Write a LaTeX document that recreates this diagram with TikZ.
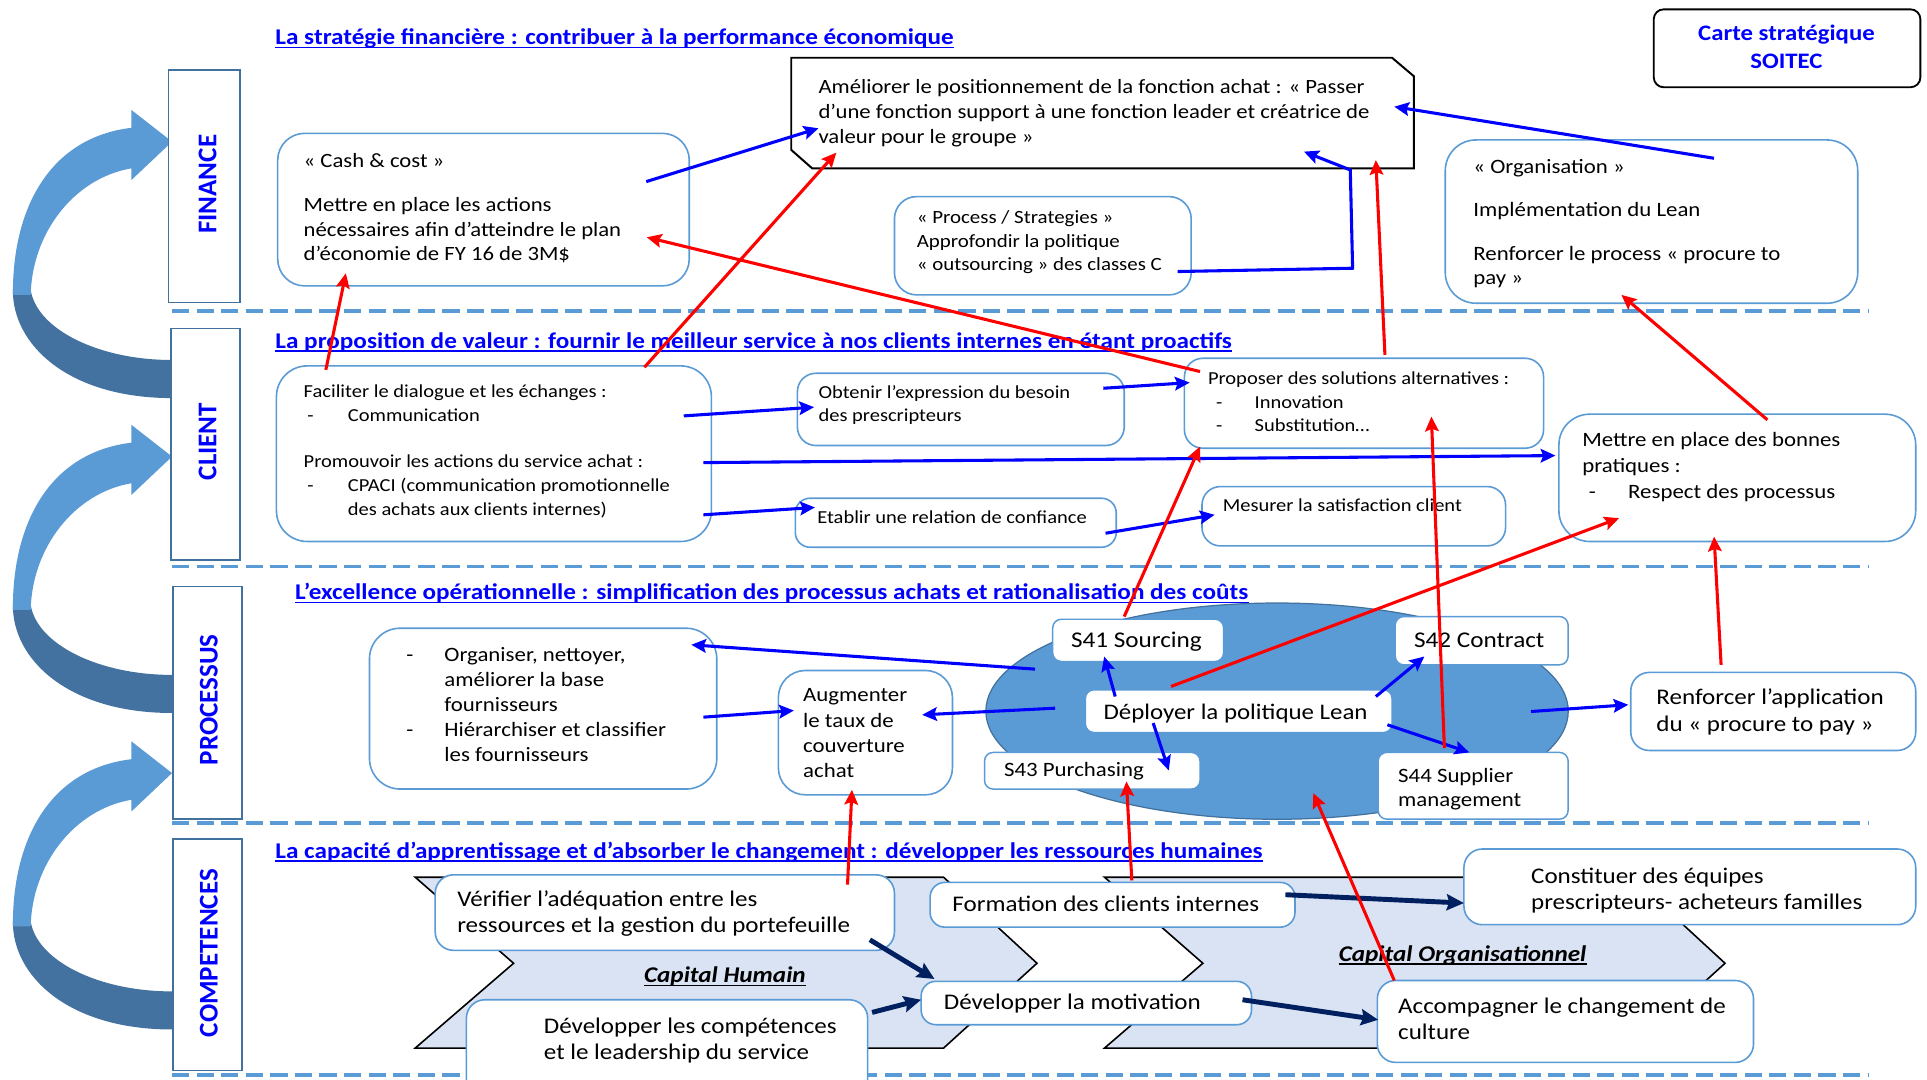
\documentclass[tikz,border=0pt]{standalone}
\usepackage{fontspec}
\setmainfont{Carlito}[FakeStretch=1.12]
\newfontfamily\lblfont{Carlito}
\usetikzlibrary{arrows.meta,fit,shapes.geometric}
\definecolor{acc}{RGB}{91,155,213}
\definecolor{accdark}{RGB}{65,113,156}
\definecolor{arrdark}{RGB}{68,114,160}
\definecolor{ttlblue}{RGB}{0,0,255}
\definecolor{navy}{RGB}{0,32,96}
\definecolor{chev}{RGB}{218,227,243}
\newcommand{\fl}{\rule{0pt}{0.9em}}
\newcommand{\fz}[2]{\fontsize{#1}{#2}\selectfont}
\newcommand{\tnode}[6]{\node[tx, font=\fz{#3}{#4}] (#5) at (#1,{#2-0.9*#3}) {\fl#6};}
\begin{document}
\begin{tikzpicture}[x=1pt,y=-1pt,
  rbox/.style={draw=acc, line width=1.3pt, fill=white, rounded corners=#1, inner sep=0pt},
  rbox/.default=15pt,
  sbox/.style={draw=acc, line width=1.2pt, fill=white, rounded corners=7pt, inner sep=0pt},
  lbl/.style={draw=accdark, line width=1.3pt, fill=white, inner sep=0pt},
  lbltxt/.style={rotate=90, text=ttlblue, font=\lblfont\bfseries\fz{22}{24}, inner sep=0pt, text height=14.2pt, text depth=0pt},
  tx/.style={inner sep=0pt, anchor=north west, align=left, text=black},
  ttl/.style={inner sep=0pt, anchor=base west, text=ttlblue, font=\bfseries\fz{18.3}{20}},
  sepline/.style={draw=acc, line width=3pt, dash pattern=on 14pt off 6pt},
  barr/.style={draw=blue, line width=2.5pt, -{Stealth[length=12pt,width=11pt,inset=2pt]}},
  rarr/.style={draw=red, line width=2.5pt, -{Stealth[length=12pt,width=11pt,inset=2pt]}},
  narr/.style={draw=navy, line width=4pt, -{Stealth[length=14pt,width=13pt,inset=2pt]}},
  chevron/.style={fill=chev, draw=black, line width=1.3pt}
]
\useasboundingbox[fill=white] (0,0) rectangle (1568.4,879);

% separators
\coordinate (s1a) at (140,253); \coordinate (s1b) at (1521,253);
\coordinate (s2a) at (140,461); \coordinate (s2b) at (1521,461);
\coordinate (s3a) at (140,670); \coordinate (s3b) at (1521,670);
\coordinate (s4a) at (140,875); \coordinate (s4b) at (1521,875);
\draw[sepline] (s1a) -- (s1b);
\draw[sepline] (s2a) -- (s2b);
\draw[sepline] (s3a) -- (s3b);
\draw[sepline] (s4a) -- (s4b);

% titles
\node[ttl] (t1) at (224,36.5) {La stratégie financière : contribuer à la performance économique};
\node[ttl] (t2) at (224,283.4) {La proposition de valeur : fournir le meilleur service à nos clients internes en étant proactifs};
\node[ttl] (t3) at (240,488.2) {L’excellence opérationnelle : simplification des processus achats et rationalisation des coûts};
\node[ttl] (t4) at (224,698.5) {La capacité d’apprentissage et d’absorber le changement : développer les ressources humaines};
\foreach \t in {t1,t2,t3,t4}{
  \draw[ttlblue, line width=1.3pt] ([yshift=-2.2pt]\t.base west) -- ([yshift=-2.2pt]\t.base east);
}

% curved arrows on the left
\foreach \dy in {0,256.3,513.9}{
  \begin{scope}[yshift=-\dy pt]
    \fill[arrdark] (10.5,236) .. controls (10,280) and (55,324) .. (140,324) -- (140,293) .. controls (80,293) and (30,268) .. (25,236) -- cycle;
    \fill[acc] (10.5,240) .. controls (10,170) and (40,112) .. (107,104) -- (107,89.5) -- (140,115.3) -- (107,146.5) -- (107,137) .. controls (60,145) and (26,190) .. (25,240) -- cycle;
  \end{scope}
}

% side labels
\node[lbl, fit={(137.3,57) (195.4,246.3)}] (finance) {};
\node[lbltxt] (finance-t) at (169,150) {FINANCE};
\node[lbl, fit={(139.1,267.2) (195.4,455.6)}] (client) {};
\node[lbltxt] (client-t) at (169,359.4) {CLIENT};
\node[lbl, fit={(141,477.4) (196.9,666.7)}] (processus) {};
\node[lbltxt] (processus-t) at (170,569.5) {PROCESSUS};
\node[lbl, fit={(141,683) (196.9,871.2)}] (competences) {};
\node[lbltxt] (competences-t) at (170,775.7) {COMPETENCES};

% carte
\node[draw=black, line width=1.5pt, rounded corners=8pt, fill=white, inner sep=0pt, fit={(1346,7.6) (1563,71)}] (carte) {};
\node[inner sep=0pt, anchor=north, align=center, text=ttlblue, font=\bfseries\fz{18}{22.6}] (carte-t) at (1454,{33-0.9*18}) {\fl Carte stratégique\\SOITEC};

% finance boxes
\node[inner sep=0pt, fit={(644,47) (1150.7,137)}] (ameliorer) {};
\filldraw[fill=white, draw=black, line width=1.6pt] (644,47) -- (1133,47) -- (1150.7,62) -- (1150.7,137) -- (661,137) -- (644,122) -- cycle;
\node[rbox=22pt, fit={(226,108.5) (561,232.7)}] (cashcost) {};
\node[rbox=18pt, fit={(728,160) (969.5,240)}] (process) {};
\node[rbox=25pt, fit={(1176.3,113.9) (1512,246.8)}] (organisation) {};

% client boxes
\node[rbox=25pt, fit={(225,297.8) (579,440.7)}] (faciliter) {};
\node[rbox=15pt, fit={(649,303.8) (915,362.6)}] (obtenir) {};
\node[rbox=12pt, fit={(647.3,405.5) (908.5,445.4)}] (etablir) {};
\node[rbox=15pt, fit={(964,291.6) (1256.3,364.8)}] (proposer) {};
\node[rbox=15pt, fit={(978.3,396) (1225.4,444.3)}] (mesurer) {};
\node[rbox=25pt, fit={(1268.8,337.1) (1559.2,440.7)}] (bonnes) {};

% processus
\node[rbox=25pt, fit={(300.7,511.3) (583.4,642.2)}] (organiser) {};
\node[rbox=22pt, fit={(633.5,545.7) (775.2,646.9)}] (augmenter) {};
\node[ellipse, fill=acc, draw=accdark, line width=1pt, minimum width=474pt, minimum height=176pt, inner sep=0pt] (ell) at (1039.4,578.8) {};
\node[sbox, fit={(856.8,504) (995.9,538.4)}] (s41) {};
\node[sbox, fit={(1135.6,501.8) (1276.3,541.1)}] (s42) {};
\node[sbox, fit={(883.4,561.4) (1133,596.2)}] (lean) {};
\node[sbox, fit={(801.3,612.4) (976.7,642.2)}] (s43) {};
\node[sbox, fit={(1121.7,612.4) (1276.3,666.7)}] (s44) {};
\node[rbox=15pt, fit={(1327.3,547.3) (1559.2,610.8)}] (renforcer) {};

% competences
\filldraw[chevron] (338,714) -- (768,714) -- (844,784) -- (768,853) -- (338,853) -- (418,784) -- cycle;
\filldraw[chevron] (899,714) -- (1328,714) -- (1404,784) -- (1328,853) -- (899,853) -- (979,784) -- cycle;
\node[inner sep=0pt, anchor=base, font=\bfseries\itshape\fz{18.3}{20}] (caph) at (590,800) {Capital Humain};
\draw[line width=1.2pt] ([yshift=-2.2pt]caph.base west) -- ([yshift=-2.2pt]caph.base east);
\node[inner sep=0pt, anchor=base, font=\bfseries\itshape\fz{18.3}{20}] (capo) at (1190.4,782.5) {Capital Organisationnel};
\draw[line width=1.2pt] ([yshift=-2.2pt]capo.base west) -- ([yshift=-2.2pt]capo.base east);
\node[rbox=15pt, fit={(354.2,712) (728,773.5)}] (verifier) {};
\node[rbox=15pt, fit={(379.6,813.7) (706.2,895)}] (developper) {};
\node[rbox=12pt, fit={(757,718.2) (1054,754.6)}] (formation) {};
\node[rbox=12pt, fit={(749.7,798.7) (1018.6,834)}] (motivation) {};
\node[rbox=15pt, fit={(1191.5,691) (1559.2,752.6)}] (constituer) {};
\node[rbox=15pt, fit={(1121,798) (1427.2,864.7)}] (accompagner) {};

% texts
\tnode{247}{136}{16.5}{20}{cashcost-t}{« Cash \& cost »\\[16pt]Mettre en place les actions\\nécessaires afin d’atteindre le plan\\d’économie de FY 16 de 3M\$}
\tnode{666}{76}{16.5}{20.3}{ameliorer-t}{Améliorer le positionnement de la fonction achat : « Passer\\d’une fonction support à une fonction leader et créatrice de\\valeur pour le groupe »}
\tnode{746}{182}{15.2}{19}{process-t}{« Process / Strategies »\\Approfondir la politique\\« outsourcing » des classes C}
\tnode{1199}{141}{16.6}{19.5}{organisation-t}{« Organisation »\\[15.8pt]Implémentation du Lean\\[15.7pt]Renforcer le process « procure to\\pay »}
\tnode{247}{323}{14.9}{19.5}{faciliter-t}{Faciliter le dialogue et les échanges :\\\hspace*{3pt}\makebox[33pt][l]{-}Communication\\[18pt]Promouvoir les actions du service achat :\\\hspace*{3pt}\makebox[33pt][l]{-}CPACI (communication promotionnelle\\\hspace*{36pt}des achats aux clients internes)}
\tnode{666}{324}{14.9}{19}{obtenir-t}{Obtenir l’expression du besoin\\des prescripteurs}
\tnode{665}{426}{14.9}{19}{etablir-t}{Etablir une relation de confiance}
\tnode{983}{313}{14.9}{19}{proposer-t}{Proposer des solutions alternatives :\\\hspace*{6.5pt}\makebox[31.5pt][l]{-}Innovation\\\hspace*{6.5pt}\makebox[31.5pt][l]{-}Substitution…}
\tnode{995}{416}{14.9}{19}{mesurer-t}{Mesurer la satisfaction client}
\tnode{1287.6}{363.5}{16.6}{21}{bonnes-t}{Mettre en place des bonnes\\pratiques :\\\hspace*{5.4pt}\makebox[32pt][l]{-}Respect des processus}
\tnode{330.5}{538.4}{16.6}{20.3}{organiser-t}{\makebox[31pt][l]{-}Organiser, nettoyer,\\\hspace*{31pt}améliorer la base\\\hspace*{31pt}fournisseurs\\\makebox[31pt][l]{-}Hiérarchiser et classifier\\\hspace*{31pt}les fournisseurs}
\tnode{653.5}{571}{16.6}{20.5}{augmenter-t}{Augmenter\\le taux de\\couverture\\achat}
\tnode{871.5}{526.7}{18.3}{20}{s41-t}{S41 Sourcing}
\tnode{1150.7}{526.7}{18.3}{20}{s42-t}{S42 Contract}
\tnode{898}{585.8}{18.1}{20}{lean-t}{Déployer la politique Lean}
\tnode{817}{632}{16.6}{19}{s43-t}{S43 Purchasing}
\tnode{1137.8}{636.8}{16.6}{19}{s44-t}{S44 Supplier\\management}
\tnode{1348}{572.8}{18.2}{22.5}{renforcer-t}{Renforcer l’application\\du « procure to pay »}
\tnode{372}{738}{18.2}{21}{verifier-t}{Vérifier l’adéquation entre les\\ressources et la gestion du portefeuille}
\tnode{442.5}{840.8}{18.2}{21}{developper-t}{Développer les compétences\\et le leadership du service}
\tnode{775}{741.8}{18.2}{21}{formation-t}{Formation des clients internes}
\tnode{768}{821.8}{18.2}{21}{motivation-t}{Développer la motivation}
\tnode{1246}{718.7}{18.2}{21}{constituer-t}{Constituer des équipes\\prescripteurs- acheteurs familles}
\tnode{1137.8}{824.5}{18.2}{21}{accompagner-t}{Accompagner le changement de\\culture}

% connector end points
\coordinate (b1s) at (526,147.8);   \coordinate (b1e) at (666.2,104.4);
\coordinate (b2s) at (1395,128.8);  \coordinate (b2e) at (1134.8,86.8);
\coordinate (b3s) at (958.5,221);   \coordinate (b3a) at (1100.9,218.3);
\coordinate (b3b) at (1099,138.3);  \coordinate (b3e) at (1061.3,123.4);
\coordinate (b4s) at (556.5,338.5); \coordinate (b4e) at (662.6,331.4);
\coordinate (b5s) at (898,316);     \coordinate (b5e) at (968.3,311.4);
\coordinate (b6s) at (572.5,376.5); \coordinate (b6e) at (1266,370.8);
\coordinate (b7s) at (572.5,419);   \coordinate (b7e) at (663.3,413);
\coordinate (b8s) at (899.8,434);   \coordinate (b8e) at (988.6,419);
\coordinate (b9s) at (842.4,544.6); \coordinate (b9e) at (562.6,524.8);
\coordinate (b10s) at (572.5,583.7); \coordinate (b10e) at (646.2,578.3);
\coordinate (b11s) at (858.8,576.4); \coordinate (b11e) at (750.5,581.8);
\coordinate (b12s) at (907.7,566.9); \coordinate (b12e) at (898.7,534.3);
\coordinate (b13s) at (938.6,588.5); \coordinate (b13e) at (951.3,627.1);
\coordinate (b14s) at (1119.8,566.9); \coordinate (b14e) at (1159.3,534.3);
\coordinate (b15s) at (1129.2,589.9); \coordinate (b15e) at (1195.9,612.4);
\coordinate (b16s) at (1246.1,579.1); \coordinate (b16e) at (1325.3,573.6);
\coordinate (n1s) at (708,764.9);   \coordinate (n1e) at (760.6,796.8);
\coordinate (n2s) at (709.8,824);   \coordinate (n2e) at (749.7,813.7);
\coordinate (n3s) at (1046.2,728.2); \coordinate (n3e) at (1191.5,735);
\coordinate (n4s) at (1011.3,813.7); \coordinate (n4e) at (1121.7,830);
\coordinate (r1s) at (265.2,301);   \coordinate (r1e) at (281.5,222.4);
\coordinate (r2s) at (524.5,298.9); \coordinate (r2e) at (680.7,124.2);
\coordinate (r3s) at (976.7,302.4); \coordinate (r3e) at (526.4,193.1);
\coordinate (r4s) at (1127.2,288.8); \coordinate (r4e) at (1119.8,130.2);
\coordinate (r5s) at (1438.5,341.7); \coordinate (r5e) at (1319.7,240);
\coordinate (r6s) at (915,501.8);   \coordinate (r6e) at (976.7,363.4);
\coordinate (r7s) at (953.1,558.7); \coordinate (r7e) at (1317.8,421.7);
\coordinate (r8s) at (1175.6,608.9); \coordinate (r8e) at (1165,339);
\coordinate (r9s) at (1400.8,541.1); \coordinate (r9e) at (1395.1,436.7);
\coordinate (r10s) at (689.8,720);  \coordinate (r10e) at (693.4,642.8);
\coordinate (r11s) at (921.2,716.6); \coordinate (r11e) at (916.8,636);
\coordinate (r12s) at (1134.8,798); \coordinate (r12e) at (1068.9,645.5);

% blue connectors
\draw[barr] (b1s) -- (b1e);
\draw[barr] (b2s) -- (b2e);
\draw[barr] (b3s) -- (b3a) -- (b3b) -- (b3e);
\draw[barr] (b4s) -- (b4e);
\draw[barr] (b5s) -- (b5e);
\draw[barr] (b6s) -- (b6e);
\draw[barr] (b7s) -- (b7e);
\draw[barr] (b8s) -- (b8e);
\draw[barr] (b9s) -- (b9e);
\draw[barr] (b10s) -- (b10e);
\draw[barr] (b11s) -- (b11e);
\draw[barr] (b12s) -- (b12e);
\draw[barr] (b13s) -- (b13e);
\draw[barr] (b14s) -- (b14e);
\draw[barr] (b15s) -- (b15e);
\draw[barr] (b16s) -- (b16e);
% navy connectors
\draw[narr] (n1s) -- (n1e);
\draw[narr] (n2s) -- (n2e);
\draw[narr] (n3s) -- (n3e);
\draw[narr] (n4s) -- (n4e);
% red connectors
\draw[rarr] (r1s) -- (r1e);
\draw[rarr] (r2s) -- (r2e);
\draw[rarr] (r3s) -- (r3e);
\draw[rarr] (r4s) -- (r4e);
\draw[rarr] (r5s) -- (r5e);
\draw[rarr] (r6s) -- (r6e);
\draw[rarr] (r7s) -- (r7e);
\draw[rarr] (r8s) -- (r8e);
\draw[rarr] (r9s) -- (r9e);
\draw[rarr] (r10s) -- (r10e);
\draw[rarr] (r11s) -- (r11e);
\draw[rarr] (r12s) -- (r12e);
\end{tikzpicture}
\end{document}
